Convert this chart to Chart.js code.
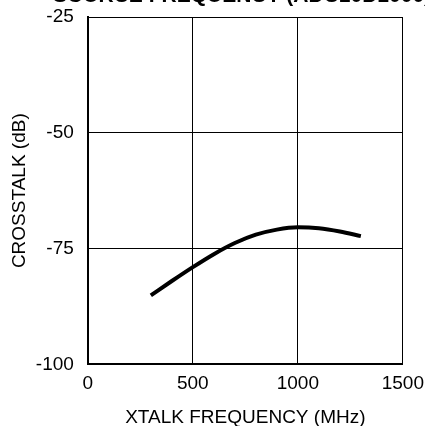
<!DOCTYPE html>
<html>
<head>
<meta charset="utf-8">
<script src="https://cdn.jsdelivr.net/npm/chart.js@4/dist/chart.umd.min.js"></script>
<style>
  html, body { margin: 0; padding: 0; background: #fff; overflow: hidden; }
  #wrap { position: relative; width: 432px; height: 441px; margin-top: -12px; }
</style>
</head>
<body>
<div id="wrap"><canvas id="chart"></canvas></div>
<script>
var freqs = [300, 400, 500, 600, 700, 800, 900, 1000, 1100, 1200, 1300];
var crosstalk = [-85.1, -82.0, -79.0, -76.2, -73.8, -72.0, -70.9, -70.4, -70.6, -71.3, -72.3];
var titleText = "SOURCE FREQUENCY (ADC10D1000)";
var xTicks = [0, 500, 1000, 1500];
var yTicks = [-100, -75, -50, -25];

var points = [];
for (var i = 0; i < freqs.length; i++) {
    points.push({x: freqs[i], y: crosstalk[i]});
}

// title is cut off at the top of the picture, only its lower edge shows
var topTitle = {
    id: 'topTitle',
    afterDraw: function(chart) {
        var ctx = chart.ctx;
        ctx.save();
        ctx.font = "bold 21px 'Liberation Sans', Arial, sans-serif";
        ctx.fillStyle = "#000";
        ctx.textAlign = "left";
        ctx.textBaseline = "alphabetic";
        ctx.fillText(titleText, 53, 14);
        ctx.restore();
    }
};

var font = {family: "'Liberation Sans', Arial, sans-serif", size: 19};

var config = {
    type: 'line',
    data: {
        datasets: [{
            data: points,
            borderColor: "#000",
            borderWidth: 4,
            pointRadius: 0,
            fill: false,
            tension: 0.4,
            cubicInterpolationMode: 'monotone'
        }]
    },
    options: {
        responsive: true,
        maintainAspectRatio: false,
        animation: false,
        layout: {padding: {top: 29, right: 0, left: 8, bottom: 0}},
        plugins: {legend: {display: false}, tooltip: {enabled: false}},
        scales: {
            x: {
                type: 'linear',
                min: 0, max: 1500,
                afterBuildTicks: function(axis) {
                    axis.ticks = xTicks.map(function(v) { return {value: v}; });
                },
                grid: {color: "#000", lineWidth: 1, drawTicks: false},
                border: {color: "#000", width: 2},
                ticks: {color: "#000", font: font, padding: 8, maxRotation: 0,
                    callback: function(v) { return String(v); }},
                title: {display: true, text: "XTALK FREQUENCY (MHz)", color: "#000", font: font, padding: {top: 3, bottom: 0}}
            },
            y: {
                min: -100, max: -25,
                afterBuildTicks: function(axis) {
                    axis.ticks = yTicks.map(function(v) { return {value: v}; });
                },
                grid: {color: "#000", lineWidth: 1, drawTicks: false},
                border: {color: "#000", width: 2},
                ticks: {color: "#000", font: font, padding: 14,
                    callback: function(v) { return String(v); }},
                title: {display: true, text: "CROSSTALK (dB)", color: "#000", font: font, padding: {top: 0, bottom: -9}}
            }
        }
    },
    plugins: [topTitle]
};

var ctx = document.getElementById("chart").getContext("2d");
window.crosstalkChart = new Chart(ctx, config);
</script>
</body>
</html>
